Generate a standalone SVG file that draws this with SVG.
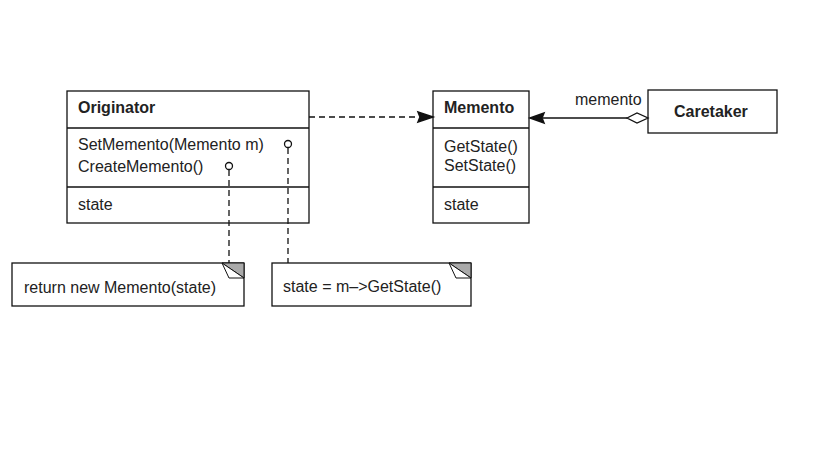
<svg xmlns="http://www.w3.org/2000/svg" width="819" height="460" viewBox="0 0 819 460">
  <style>
    .box { fill: #fff; stroke: #111; stroke-width: 1.3; }
    .sep { stroke: #111; stroke-width: 1.3; }
    .t { font-family: "Liberation Sans", Arial, sans-serif; font-size: 16px; fill: #222; }
    .b { font-weight: bold; }
    .dash { fill: none; stroke: #111; stroke-width: 1.3; stroke-dasharray: 6 4; }
    .solid { fill: none; stroke: #111; stroke-width: 1.3; }
    .lolly { fill: #fff; stroke: #111; stroke-width: 1.3; }
    .ear { fill: #aaa; stroke: #111; stroke-width: 1; }
    .fold { fill: #fff; stroke: #111; stroke-width: 1; }
  </style>
  <rect width="819" height="460" fill="#fff"/>

  <g id="originator">
    <rect class="box" x="67" y="91" width="242" height="132"/>
    <line class="sep" x1="67" y1="128" x2="309" y2="128"/>
    <line class="sep" x1="67" y1="187" x2="309" y2="187"/>
    <text class="t b" x="78" y="113">Originator</text>
    <text class="t" x="78" y="150">SetMemento(Memento m)</text>
    <text class="t" x="78" y="172">CreateMemento()</text>
    <text class="t" x="78" y="210">state</text>
  </g>

  <g id="memento">
    <rect class="box" x="433" y="91" width="96" height="132"/>
    <line class="sep" x1="433" y1="128" x2="529" y2="128"/>
    <line class="sep" x1="433" y1="187" x2="529" y2="187"/>
    <text class="t b" x="444" y="113">Memento</text>
    <text class="t" x="444" y="152">GetState()</text>
    <text class="t" x="444" y="171">SetState()</text>
    <text class="t" x="444" y="210">state</text>
  </g>

  <g id="caretaker">
    <rect class="box" x="648" y="90" width="129" height="43"/>
    <text class="t b" x="674" y="117">Caretaker</text>
  </g>

  <g id="note-create">
    <rect class="box" x="12" y="263" width="232" height="43"/>
    <polygon class="ear" points="222,263 244,263 244,278"/>
    <polygon class="fold" points="222,263 229,278 244,278"/>
    <text class="t" x="24" y="293">return new Memento(state)</text>
  </g>

  <g id="note-set">
    <rect class="box" x="272" y="263" width="199" height="43"/>
    <polygon class="ear" points="449,263 471,263 471,278"/>
    <polygon class="fold" points="449,263 456,278 471,278"/>
    <text class="t" x="283" y="292">state = m–&gt;GetState()</text>
  </g>

  <g id="connectors">
    <!-- Originator depends on Memento -->
    <line class="dash" x1="309" y1="117" x2="419" y2="117"/>
    <polygon points="433,117 418,112 420,117 418,122" fill="#111" stroke="#111" stroke-width="1.5"/>
    <!-- Caretaker aggregates Memento -->
    <line class="solid" x1="543" y1="118" x2="627" y2="118"/>
    <polygon points="530,118 544,113 542,118 544,123" fill="#111" stroke="#111" stroke-width="1.5"/>
    <polygon class="lolly" points="627,118 637,113 648,118 637,123"/>
    <text class="t" x="575" y="105">memento</text>
    <!-- note links -->
    <line class="dash" x1="229" y1="170" x2="229" y2="263"/>
    <circle class="lolly" cx="229" cy="166" r="3.5"/>
    <line class="dash" x1="288" y1="148" x2="288" y2="263"/>
    <circle class="lolly" cx="288" cy="144" r="3.5"/>
  </g>
</svg>
